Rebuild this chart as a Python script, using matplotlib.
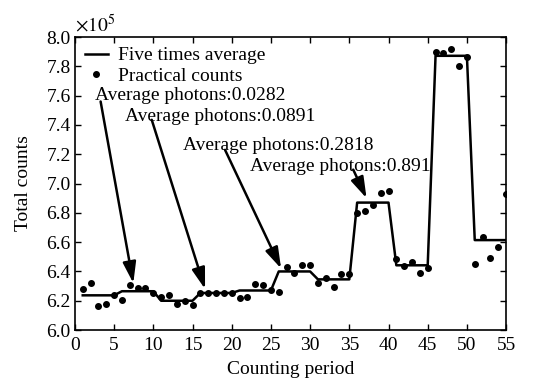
import matplotlib
matplotlib.use('Agg')
import matplotlib.pyplot as plt
import numpy as np

plt.rcParams['font.family'] = ['Liberation Serif', 'DejaVu Serif']
plt.rcParams['mathtext.fontset'] = 'stix'

# counting periods and measured counts (x10^5)
periods = np.arange(1, 56)
counts = [6.278, 6.323, 6.164, 6.175, 6.239,
          6.205, 6.310, 6.285, 6.290, 6.255,
          6.225, 6.237, 6.175, 6.200, 6.173,
          6.255, 6.255, 6.250, 6.250, 6.250,
          6.216, 6.227, 6.316, 6.305, 6.270,
          6.262, 6.432, 6.387, 6.444, 6.444,
          6.323, 6.353, 6.296, 6.380, 6.382,
          6.800, 6.814, 6.853, 6.933, 6.949,
          6.482, 6.437, 6.466, 6.387, 6.421,
          7.896, 7.889, 7.916, 7.804, 7.866,
          6.450, 6.637, 6.489, 6.565, 6.926]

# five times average, one value per block of five periods
block_avg = [6.237, 6.265, 6.200, 6.253, 6.270, 6.400, 6.346, 6.870, 6.442, 7.872, 6.614]

labels = ['Average photons:0.0282', 'Average photons:0.0891',
          'Average photons:0.2818', 'Average photons:0.891']
text_pos = [(2.55, 7.60), (6.40, 7.455), (13.85, 7.263), (22.35, 7.115)]
arrow_start = [(3.28, 7.56), (9.80, 7.435), (19.15, 7.23), (35.5, 7.095)]
arrow_tip = [(7.45, 6.32), (16.6, 6.28), (26.3, 6.42), (37.2, 6.90)]

fig = plt.figure(figsize=(5.35, 3.82), dpi=100)
ax = fig.add_axes([0.140, 0.136, 0.806, 0.767])

avg_line = np.repeat(block_avg, 5)
ax.plot(periods, avg_line, color='black', lw=1.8, label='Five times average')
ax.plot(periods, counts, 'o', color='black', ms=4, label='Practical counts')

for lab, tp, st, tip in zip(labels, text_pos, arrow_start, arrow_tip):
    ax.text(tp[0], tp[1], lab, fontsize=14, va='center', ha='left')
    ax.annotate('', xy=tip, xytext=st,
                arrowprops=dict(arrowstyle='-|>,head_length=0.8,head_width=0.25',
                                color='black', lw=1.8,
                                mutation_scale=16, shrinkA=0, shrinkB=0))

ax.set_xlim(0, 55)
ax.set_ylim(6.0, 8.0)
ax.set_xticks(np.arange(0, 56, 5))
ax.set_yticks(np.arange(6.0, 8.01, 0.2))
ax.set_yticklabels(['%.1f' % v for v in np.arange(6.0, 8.01, 0.2)])
ax.tick_params(direction='in', top=True, right=True, labelsize=14, length=4, width=1)
ax.tick_params(axis='x', pad=5)
ax.tick_params(axis='y', pad=3)
for sp in ax.spines.values():
    sp.set_linewidth(1.2)

ax.set_xlabel('Counting period', fontsize=14, labelpad=5)
ax.set_ylabel('Total counts', fontsize=14, labelpad=10)
ax.text(0.0, 1.005, r'$\times10^5$', transform=ax.transAxes, fontsize=14, ha='left', va='bottom')

ax.legend(loc='upper left', frameon=False, fontsize=14, handlelength=1.2,
          handletextpad=0.5, labelspacing=0.15, borderaxespad=0.3, borderpad=0.2)

fig.savefig('out.png', dpi=100)
